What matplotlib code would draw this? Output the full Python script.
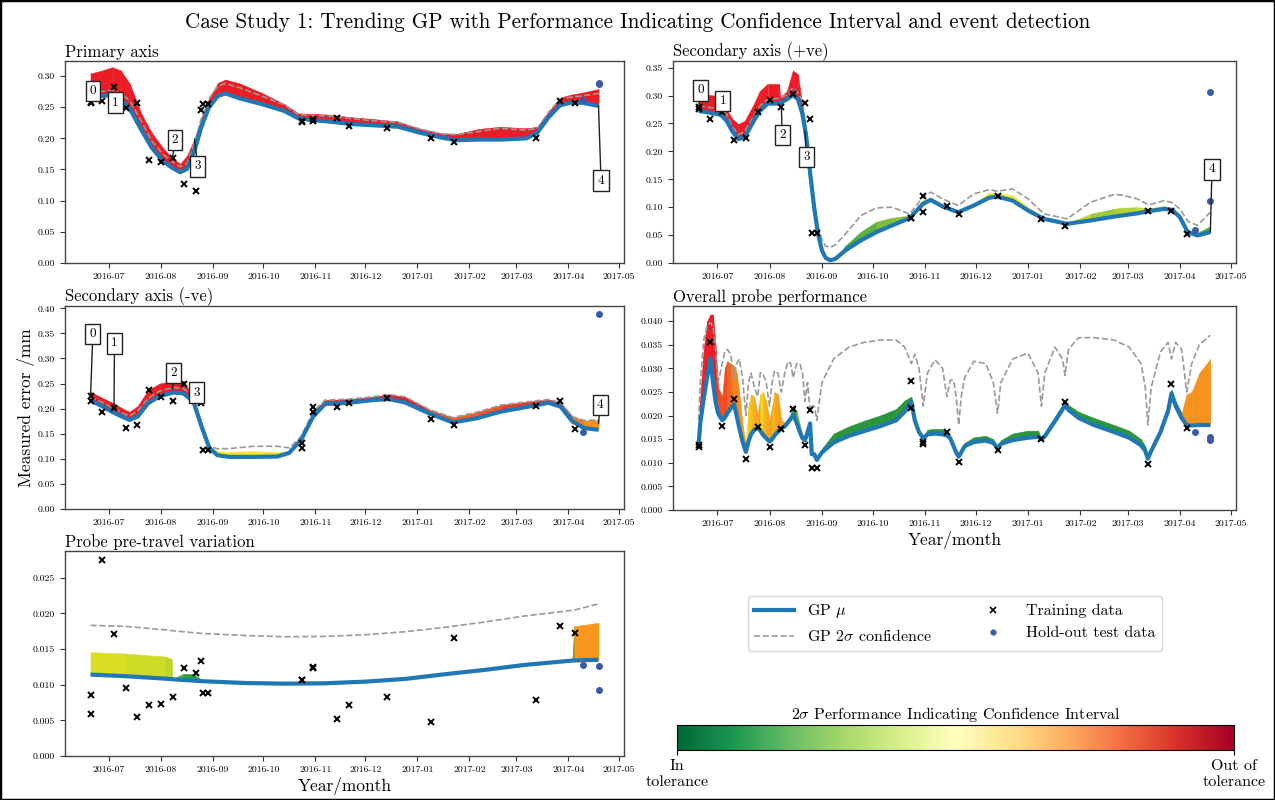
import numpy as np
import matplotlib
matplotlib.use("Agg")
import matplotlib.pyplot as plt
import matplotlib.dates as mdates
from matplotlib.colors import LinearSegmentedColormap
from matplotlib.lines import Line2D
from matplotlib.patches import Rectangle
import matplotlib.colorbar as mcolorbar
from matplotlib.ticker import FormatStrFormatter

plt.rcParams['font.family'] = ['cmr10', 'DejaVu Serif']
plt.rcParams['mathtext.fontset'] = 'cm'
plt.rcParams['axes.formatter.use_mathtext'] = True
plt.rcParams['axes.unicode_minus'] = False

# ---------------------------------------------------------------- data
base_date = '2016-06-20'          # GP curves are given in days from this date

train_dates = ['2016-06-20', '2016-06-20', '2016-06-27', '2016-07-04', '2016-07-11',
               '2016-07-18', '2016-07-25', '2016-08-01', '2016-08-08', '2016-08-15',
               '2016-08-22', '2016-08-25', '2016-08-26', '2016-08-29', '2016-10-24',
               '2016-10-24', '2016-10-31', '2016-10-31', '2016-11-14', '2016-11-21',
               '2016-12-14', '2017-01-09', '2017-01-23', '2017-03-13', '2017-03-27',
               '2017-04-05']
test_dates = ['2017-04-10', '2017-04-19', '2017-04-19']

# Primary axis
p_train = [0.258, 0.257, 0.2595, 0.2825, 0.248, 0.256, 0.166, 0.162, 0.169, 0.127,
           0.115, 0.245, 0.255, 0.255, 0.2265, 0.227, 0.228, 0.231, 0.232, 0.219,
           0.216, 0.200, 0.1945, 0.201, 0.260, 0.256]
p_test = [0.2611, 0.2893, 0.2867]
p_days = [0, 6, 13, 18, 23.5, 30, 36.5, 43, 48.5, 53.5, 57.5, 62, 66, 70.5, 76, 80.5,
          89, 102, 115.5, 124, 133, 142, 155, 168, 183.5, 196.5, 209.5, 218.5, 231.5,
          244.5, 260, 266.5, 273, 280, 286.5, 293, 303]
p_mu = [0.264, 0.268, 0.269, 0.263, 0.247, 0.215, 0.185, 0.164, 0.153, 0.1455, 0.151,
        0.180, 0.217, 0.249, 0.268, 0.272, 0.264, 0.255, 0.244, 0.232, 0.229, 0.227,
        0.223, 0.221, 0.2185, 0.209, 0.201, 0.197, 0.198, 0.198, 0.200, 0.209, 0.233,
        0.253, 0.257, 0.257, 0.252]
p_conf = [0.271, 0.275, 0.277, 0.272, 0.260, 0.229, 0.196, 0.175, 0.163, 0.1545, 0.160,
          0.193, 0.231, 0.263, 0.284, 0.288, 0.281, 0.268, 0.254, 0.238, 0.236, 0.236,
          0.232, 0.228, 0.2255, 0.215, 0.207, 0.206, 0.211, 0.216, 0.213, 0.216, 0.241,
          0.263, 0.266, 0.268, 0.272]
p_pici = [0.304, 0.308, 0.314, 0.309, 0.287, 0.241, 0.209, 0.185, 0.169, 0.159, 0.172,
          0.199, 0.231, 0.263, 0.289, 0.294, 0.288, 0.273, 0.255, 0.240, 0.239, 0.238,
          0.234, 0.231, 0.227, 0.215, 0.208, 0.207, 0.215, 0.2185, 0.216, 0.2185, 0.242,
          0.265, 0.270, 0.273, 0.279]
p_level = [1.0] * 37

# Secondary axis (+ve)
s_train = [0.2804, 0.2756, 0.2583, 0.2714, 0.2202, 0.2232, 0.270, 0.2917, 0.2798,
           0.3024, 0.2875, 0.2583, 0.0536, 0.0536, 0.081, 0.080, 0.1208, 0.0911,
           0.1018, 0.0881, 0.1196, 0.0786, 0.0661, 0.094, 0.0923, 0.0518]
s_test = [0.0595, 0.3065, 0.1113]
s_days = [0, 6.2, 13.1, 16.6, 20, 23.5, 27.4, 32.7, 36.2, 40.8, 47.7, 48.2, 52.3, 55.8,
          58.8, 61.5, 63.8, 66.1, 68.4, 70.7, 73, 75.3, 78.1, 81.1, 86.9, 96.1, 105.3,
          114.5, 124.9, 132.9, 137.5, 144.5, 153.7, 162.9, 172.1, 176.7, 185.9, 195.1,
          204.4, 218.2, 232, 245.8, 250.4, 259.7, 266.6, 275.8, 280.4, 285, 289.6,
          295.4, 303]
s_mu = [0.2726, 0.2696, 0.2655, 0.2548, 0.2357, 0.222, 0.2262, 0.2548, 0.272, 0.2857,
        0.2857, 0.286, 0.2935, 0.3012, 0.2935, 0.2667, 0.225, 0.1595, 0.100, 0.0524,
        0.0226, 0.0089, 0.0048, 0.0077, 0.0226, 0.0405, 0.0554, 0.0673, 0.0804, 0.106,
        0.1131, 0.1012, 0.0911, 0.103, 0.117, 0.119, 0.1119, 0.094, 0.0792, 0.0702,
        0.0762, 0.083, 0.0851, 0.089, 0.0929, 0.097, 0.0952, 0.0821, 0.0554, 0.0494,
        0.0554]
s_conf = [0.281, 0.279, 0.2756, 0.266, 0.245, 0.2298, 0.236, 0.2637, 0.281, 0.2935,
          0.295, 0.295, 0.302, 0.3143, 0.305, 0.2905, 0.235, 0.1595, 0.105, 0.0643,
          0.042, 0.030, 0.028, 0.033, 0.052, 0.085, 0.0988, 0.100, 0.088, 0.1179,
          0.1268, 0.1149, 0.103, 0.1238, 0.1315, 0.1286, 0.1327, 0.1149, 0.0881,
          0.0792, 0.1089, 0.1226, 0.122, 0.1149, 0.1042, 0.1119, 0.108, 0.097, 0.075,
          0.0673, 0.0911]
s_pici = [0.301, 0.301, 0.299, 0.275, 0.258, 0.249, 0.255, 0.285, 0.308, 0.321, 0.321,
          0.297, 0.308, 0.345, 0.338, 0.279, 0.237, 0.1595, 0.100, 0.0524, 0.0226,
          0.0089, 0.0048, 0.0077, 0.031, 0.056, 0.074, 0.081, 0.085, 0.113, 0.117,
          0.104, 0.093, 0.106, 0.126, 0.125, 0.121, 0.100, 0.081, 0.071, 0.088, 0.097,
          0.099, 0.100, 0.098, 0.102, 0.098, 0.085, 0.057, 0.054, 0.066]
s_level = [1.0] * 17 + [0.3] * 7 + [0.3, 0.32, 0.36, 0.37, 0.38, 0.5, 0.5, 0.5, 0.5,
                                    0.5, 0.5, 0.5, 0.5, 0.5, 0.48, 0.45, 0.40, 0.42,
                                    0.43, 0.45, 0.47, 0.5, 0.5, 0.4, 0.3, 0.3, 0.3]

# Secondary axis (-ve)
n_train = [0.225, 0.2158, 0.1928, 0.2007, 0.1618, 0.1671, 0.2375, 0.2237, 0.2158,
           0.2487, 0.246, 0.212, 0.117, 0.117, 0.1316, 0.1217, 0.204, 0.194, 0.204,
           0.2105, 0.2217, 0.1796, 0.1684, 0.2046, 0.2151, 0.1592]
n_test = [0.1533, 0.3895]
n_test_dates = ['2017-04-10', '2017-04-19']
n_days = [0, 6.7, 13.8, 20.9, 23.3, 28.1, 34.3, 41.2, 49.5, 55.5, 61.4, 66.2, 70.9,
          75.7, 82.8, 97.1, 111.4, 118.5, 125.7, 132.8, 139.9, 154.2, 168.5, 178,
          187.5, 201.8, 216.1, 230.4, 244.7, 258.9, 273.2, 280.4, 287.5, 294.6, 303]
n_mu = [0.2158, 0.2053, 0.192, 0.1809, 0.1776, 0.1842, 0.2105, 0.225, 0.2322, 0.2303,
        0.2138, 0.1645, 0.1217, 0.1072, 0.1039, 0.1039, 0.1046, 0.1118, 0.1382, 0.1842,
        0.2092, 0.2118, 0.2171, 0.2191, 0.2125, 0.1908, 0.1724, 0.1809, 0.1941, 0.2026,
        0.2118, 0.2039, 0.1743, 0.1612, 0.1579]
n_conf = [0.2237, 0.213, 0.2007, 0.188, 0.1855, 0.195, 0.2204, 0.235, 0.2421, 0.2401,
          0.224, 0.1711, 0.125, 0.120, 0.1204, 0.125, 0.125, 0.1217, 0.145, 0.1941,
          0.2171, 0.219, 0.2237, 0.2283, 0.2237, 0.1987, 0.1822, 0.193, 0.2072, 0.213,
          0.2184, 0.212, 0.1842, 0.1763, 0.1776]
n_pici = [0.2336, 0.222, 0.2105, 0.197, 0.194, 0.205, 0.2368, 0.250, 0.2553, 0.2553,
          0.2204, 0.172, 0.125, 0.115, 0.1138, 0.1151, 0.1132, 0.115, 0.142, 0.194,
          0.2171, 0.219, 0.2237, 0.2283, 0.2237, 0.1987, 0.1822, 0.193, 0.2072, 0.213,
          0.2184, 0.212, 0.1842, 0.1763, 0.1776]
n_level = [1.0] * 12 + [0.5] * 6 + [1.0] * 7 + [0.88, 0.86, 0.88, 0.93, 0.96, 0.98,
                                               0.95, 0.8, 0.75, 0.75]

# Overall probe performance
o_train = [0.0134, 0.0138, 0.0355, 0.0177, 0.0236, 0.0109, 0.0176, 0.0134, 0.0171,
           0.0214, 0.0138, 0.0212, 0.0090, 0.0090, 0.0274, 0.0215, 0.0144, 0.0140,
           0.0166, 0.0102, 0.0128, 0.0150, 0.0229, 0.0097, 0.0266, 0.0173]
o_test = [0.0165, 0.0155, 0.0148]
o_days = [0, 1, 3, 5, 7, 8.5, 10, 11.5, 14, 15.5, 17, 19, 21, 22.5, 24, 26, 28, 29.5,
          31, 33, 35, 36.5, 38, 40, 42, 43.5, 45, 47, 49, 51, 53, 54.5, 56, 58, 60,
          61.5, 63, 64.5, 66, 67, 68.5, 70, 73, 80, 89, 98, 108, 117, 122, 126, 128,
          130.5, 133, 135.5, 140, 144.5, 147, 149, 151, 152.5, 154, 155.5, 157.5, 163,
          170, 174.5, 177, 179, 186, 195, 201, 203, 205, 211, 215.5, 217, 219, 225,
          234, 246, 255, 262, 264.5, 266, 268, 273.5, 278, 280, 282.5, 286, 289, 292,
          296.5, 303]
o_mu = [0.0138, 0.0185, 0.0235, 0.028, 0.0321, 0.027, 0.023, 0.0205, 0.019, 0.0195,
        0.0205, 0.0215, 0.0224, 0.020, 0.0175, 0.0145, 0.0123, 0.0145, 0.016, 0.017,
        0.0174, 0.0168, 0.016, 0.0152, 0.0145, 0.015, 0.0158, 0.0166, 0.0173, 0.0177,
        0.0186, 0.0193, 0.0202, 0.0185, 0.0165, 0.0152, 0.0148, 0.0165, 0.0183,
        0.0118, 0.0118, 0.0106, 0.0122, 0.0143, 0.0157, 0.0167, 0.0178, 0.019, 0.0208,
        0.0229, 0.019, 0.0165, 0.0152, 0.016, 0.0162, 0.016, 0.0158, 0.0152, 0.0135,
        0.0122, 0.0113, 0.0122, 0.0135, 0.0144, 0.0147, 0.0142, 0.0131, 0.014, 0.0148,
        0.0153, 0.0155, 0.015, 0.0156, 0.0188, 0.0213, 0.0222, 0.0212, 0.0195, 0.018,
        0.0165, 0.0153, 0.0137, 0.0125, 0.0109, 0.0125, 0.0165, 0.021, 0.0247, 0.022,
        0.0195, 0.018, 0.0179, 0.018, 0.018]
o_conf = [0.019, 0.027, 0.036, 0.039, 0.0397, 0.0388, 0.0345, 0.027, 0.031, 0.0335,
          0.034, 0.033, 0.028, 0.031, 0.032, 0.028, 0.020, 0.027, 0.029, 0.026, 0.024,
          0.029, 0.029, 0.027, 0.022, 0.027, 0.0295, 0.029, 0.025, 0.029, 0.0315,
          0.031, 0.028, 0.031, 0.031, 0.029, 0.023, 0.027, 0.021, 0.022, 0.022, 0.019,
          0.027, 0.032, 0.0345, 0.0355, 0.036, 0.036, 0.0345, 0.031, 0.033, 0.030,
          0.022, 0.029, 0.0318, 0.030, 0.024, 0.0275, 0.0275, 0.024, 0.018, 0.024,
          0.028, 0.0315, 0.031, 0.027, 0.0205, 0.027, 0.032, 0.0332, 0.029, 0.022,
          0.029, 0.0345, 0.032, 0.0285, 0.034, 0.0365, 0.0365, 0.036, 0.0345, 0.031,
          0.026, 0.018, 0.026, 0.0335, 0.0355, 0.032, 0.0355, 0.034, 0.025, 0.031,
          0.035, 0.037]
o_pici = [0.0138, 0.024, 0.034, 0.040, 0.0414, 0.0414, 0.035, 0.026, 0.024, 0.030,
          0.0315, 0.031, 0.0305, 0.029, 0.025, 0.018, 0.014, 0.022, 0.0245, 0.024,
          0.020, 0.0245, 0.025, 0.023, 0.019, 0.022, 0.025, 0.0245, 0.019, 0.0185,
          0.0192, 0.020, 0.0222, 0.021, 0.018, 0.0155, 0.0149, 0.0175, 0.0188, 0.012,
          0.012, 0.0108, 0.013, 0.0162, 0.0177, 0.0189, 0.0201, 0.0214, 0.0232, 0.024,
          0.0195, 0.0168, 0.0155, 0.017, 0.0172, 0.0171, 0.0165, 0.0155, 0.0137,
          0.0124, 0.0114, 0.0126, 0.0142, 0.0154, 0.0157, 0.015, 0.0133, 0.0148,
          0.0162, 0.0168, 0.0168, 0.0152, 0.0165, 0.0198, 0.0223, 0.023, 0.0222,
          0.0208, 0.0195, 0.018, 0.0168, 0.015, 0.0135, 0.0112, 0.013, 0.0172, 0.0218,
          0.0255, 0.023, 0.0205, 0.0245, 0.025, 0.029, 0.032]
o_level = [1.0, 1.0, 1.0, 1.0, 1.0, 1.0, 0.95, 0.9, 0.9, 0.9, 0.85, 0.8, 0.78, 0.78,
           0.75, 0.72, 0.55, 0.6, 0.65, 0.7, 0.72, 0.55, 0.65, 0.7, 0.72, 0.65, 0.7,
           0.72, 0.72, 0.3, 0.25, 0.25, 0.3, 0.35, 0.35, 0.3, 0.25, 0.25, 0.25, 0.25,
           0.25, 0.2] + [0.2] * 47 + [0.75, 0.75, 0.75, 0.75, 0.75]

# Probe pre-travel variation
t_train = [0.0085, 0.0059, 0.0275, 0.0171, 0.0096, 0.0055, 0.0072, 0.0073, 0.0083,
           0.0124, 0.0117, 0.0133, 0.0089, 0.0089, 0.0107, 0.0106, 0.0125, 0.0124,
           0.0052, 0.0071, 0.0083, 0.0047, 0.0166, 0.0078, 0.0183, 0.0172]
t_test = [0.0127, 0.0126, 0.0092]
t_days = [0, 20.9, 44.7, 48.3, 48.6, 55, 61.4, 66.2, 92.3, 116.1, 139.9, 163.7, 187.5,
          211.3, 235.1, 258.9, 287.5, 288.5, 303]
t_mu = [0.01142, 0.0112, 0.01085, 0.01078, 0.01077, 0.01067, 0.01058, 0.0105, 0.01024,
        0.01015, 0.0102, 0.01043, 0.01081, 0.01147, 0.01208, 0.01278, 0.01339, 0.0134,
        0.01349]
t_conf = [0.01833, 0.01818, 0.0177, 0.0176, 0.01759, 0.01745, 0.0173, 0.0172, 0.0169,
          0.01673, 0.01678, 0.01701, 0.01743, 0.01805, 0.0188, 0.01964, 0.02045,
          0.02047, 0.02133]
t_pici = [0.01457, 0.01437, 0.01395, 0.01363, 0.01077, 0.0115, 0.0115, 0.0107, 0.01044,
          0.01035, 0.0104, 0.01063, 0.01101, 0.01167, 0.01228, 0.01298, 0.0136,
          0.01819, 0.0187]
t_level = [0.47, 0.46, 0.44, 0.43, 0.3, 0.25, 0.25, 0.25, 0.25, 0.25, 0.25, 0.25, 0.25,
           0.25, 0.25, 0.25, 0.25, 0.74, 0.74]

# event annotations: (label, event day, anchor value, text day, text value)
p_events = [('0', 0, 0.264, 1.5, 0.276), ('1', 14, 0.268, 14.7, 0.257),
            ('2', 49, 0.169, 50.4, 0.197), ('3', 62, 0.199, 64, 0.155),
            ('4', 303, 0.252, 304.5, 0.132)]
s_events = [('0', 0, 0.279, 1.2, 0.3095), ('1', 14, 0.270, 14.3, 0.2905),
            ('2', 49, 0.280, 49.5, 0.229), ('3', 63, 0.237, 63.8, 0.190),
            ('4', 303, 0.0555, 304, 0.168)]
n_events = [('0', 0, 0.222, 1.4, 0.349), ('1', 14, 0.199, 14.3, 0.330),
            ('2', 49, 0.240, 49.5, 0.271), ('3', 63, 0.215, 63.3, 0.232),
            ('4', 303, 0.170, 304, 0.207)]

# ---------------------------------------------------------------- styling
fill_cmap = LinearSegmentedColormap.from_list(
    'pici', [(0.0, '#0f7a35'), (0.25, '#2f9d3e'), (0.38, '#8cc43f'),
             (0.5, '#f3e71b'), (0.75, '#f7941d'), (1.0, '#ed1c24')])
MU_COLOR = '#1f77b4'
TEST_COLOR = '#3a5ca8'
t0 = mdates.date2num(np.datetime64(base_date))


def to_x(days):
    return t0 + np.asarray(days, dtype=float)


def draw_panel(ax, days, mu, conf, pici, level, train, tests, tdates, title, ylim,
               yticks, fmt, events=None):
    x = to_x(days)
    mu = np.asarray(mu)
    pici = np.asarray(pici)
    for i in range(len(x) - 1):
        col = fill_cmap(level[i])
        ax.fill_between(x[i:i + 2], mu[i:i + 2], pici[i:i + 2], facecolor=col,
                        edgecolor=col, linewidth=0.4, zorder=1)
    ax.plot(x, conf, ls='--', color='#999999', lw=1.2, zorder=2)
    ax.plot(x, mu, color=MU_COLOR, lw=3, zorder=3, solid_capstyle='butt')
    ax.plot(mdates.datestr2num(train_dates), train, 'x', color='k', ms=4.5, mew=1.4,
            zorder=4)
    ax.plot(mdates.datestr2num(tdates), tests, 'o', color=TEST_COLOR, ms=4, zorder=4)
    if events:
        for lab, ed, ev, td, tv in events:
            ax.annotate(lab, xy=(to_x(ed), ev), xytext=(to_x(td), tv), fontsize=9.5,
                        ha='center', va='center', zorder=6,
                        bbox=dict(boxstyle='square,pad=0.32', fc='white', ec='#222222',
                                  lw=1),
                        arrowprops=dict(arrowstyle='-', color='#222222', lw=1,
                                        shrinkA=0, shrinkB=0))
    ax.set_title(title, loc='left', fontsize=12, pad=3)
    ax.set_xlim(t0 - 15.2, t0 + 303 + 15.2)
    ax.set_ylim(*ylim)
    ax.set_yticks(yticks)
    ax.yaxis.set_major_formatter(FormatStrFormatter(fmt))
    ax.xaxis.set_major_locator(mdates.MonthLocator())
    ax.xaxis.set_major_formatter(mdates.DateFormatter('%Y-%m'))
    ax.tick_params(labelsize=7, length=3.5, width=0.8, color='#333333')
    for s in ax.spines.values():
        s.set_color('#444444')
        s.set_linewidth(1.0)


fig = plt.figure(figsize=(12.75, 8), dpi=100)
fig.patches.append(Rectangle((0, 0), 1, 1, transform=fig.transFigure, fill=False,
                             ec='k', lw=2.5, zorder=10))
fig.text(0.5, 0.972, 'Case Study 1: Trending GP with Performance Indicating Confidence '
         'Interval and event detection', ha='center', va='center', fontsize=15.2)

ax1 = fig.add_axes([0.0510, 0.67125, 0.4384, 0.2525])
ax2 = fig.add_axes([0.5278, 0.67125, 0.4416, 0.2525])
ax3 = fig.add_axes([0.0510, 0.36375, 0.4384, 0.25375])
ax4 = fig.add_axes([0.5278, 0.3625, 0.4416, 0.255])
ax5 = fig.add_axes([0.0510, 0.0550, 0.4384, 0.25625])

draw_panel(ax1, p_days, p_mu, p_conf, p_pici, p_level, p_train, p_test, test_dates,
           'Primary axis', (0, 0.324), np.arange(0, 0.301, 0.05), '%.2f', p_events)
draw_panel(ax2, s_days, s_mu, s_conf, s_pici, s_level, s_train, s_test, test_dates,
           'Secondary axis (+ve)', (0, 0.362), np.arange(0, 0.351, 0.05), '%.2f',
           s_events)
draw_panel(ax3, n_days, n_mu, n_conf, n_pici, n_level, n_train, n_test, n_test_dates,
           'Secondary axis (-ve)', (0, 0.4046), np.arange(0, 0.401, 0.05), '%.2f',
           n_events)
draw_panel(ax4, o_days, o_mu, o_conf, o_pici, o_level, o_train, o_test, test_dates,
           'Overall probe performance', (0, 0.0432), np.arange(0, 0.0401, 0.005),
           '%.3f')
draw_panel(ax5, t_days, t_mu, t_conf, t_pici, t_level, t_train, t_test, test_dates,
           'Probe pre-travel variation', (0, 0.02876), np.arange(0, 0.0251, 0.005),
           '%.3f')

ax3.set_ylabel('Measured error /mm', fontsize=12.5, labelpad=2)
ax4.set_xlabel('Year/month', fontsize=12.5, labelpad=2)
ax5.set_xlabel('Year/month', fontsize=12.5, labelpad=2)

# legend
handles = [Line2D([], [], color=MU_COLOR, lw=3),
           Line2D([], [], color='#999999', lw=1.2, ls='--'),
           Line2D([], [], color='k', marker='x', ls='none', ms=4, mew=1.2),
           Line2D([], [], color=TEST_COLOR, marker='o', ls='none', ms=3.5)]
labels = [r'GP $\mu$', r'GP $2\sigma$ confidence', 'Training data', 'Hold-out test data']
fig.legend(handles, labels, loc='center', bbox_to_anchor=(0.749, 0.221), ncol=2,
           fontsize=11.5, frameon=True, edgecolor='#cccccc', columnspacing=2.6,
           handlelength=2.5)

# colour bar
cax = fig.add_axes([0.531, 0.0625, 0.4369, 0.03125])
cb = mcolorbar.ColorbarBase(cax, cmap=plt.get_cmap('RdYlGn_r'),
                            orientation='horizontal', ticks=[0, 1])
cb.ax.set_xticklabels(['In\ntolerance', 'Out of\ntolerance'], fontsize=11.5)
cb.outline.set_linewidth(0.8)
cax.set_title(r'$2\sigma$ Performance Indicating Confidence Interval', fontsize=11.5,
              pad=4)

fig.savefig('out.png', dpi=100)
